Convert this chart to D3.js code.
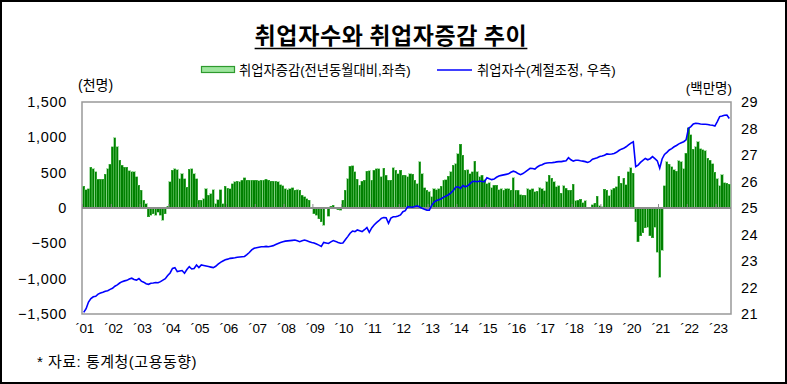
<!DOCTYPE html>
<html>
<head>
<meta charset="utf-8">
<script src="https://cdn.jsdelivr.net/npm/d3@7"></script>
<style>
  body { margin: 0; background: #fff; }
  text { font-family: "Liberation Sans", "Noto Sans CJK KR", sans-serif; fill: #000; }
  .kr { font-family: "Noto Sans CJK KR", sans-serif; }
</style>
</head>
<body>
<div id="graph"></div>
<script>
// 취업자증감 (전년동월대비, 천명) 2001.01 ~ 2023.06
const barChange = [
  307, 260, 274, 580, 557, 510, 406, 406, 406, 477, 557, 618, // 2001
  864, 996, 864, 675, 604, 580, 580, 524, 510, 510, 439, 321, // 2002
  250, 109, 61, -127, -104, -80, -104, -57, -104, -175, -80, 24, // 2003
  368, 533, 557, 543, 415, 486, 415, 297, 548, 557, 486, 415, // 2004
  109, 109, 132, 274, 179, 203, 260, 61, 118, 260, 61, 307, // 2005
  283, 274, 345, 368, 378, 368, 392, 425, 392, 392, 392, 392, // 2006
  392, 387, 392, 392, 406, 392, 378, 378, 378, 368, 330, 312, // 2007
  274, 260, 274, 288, 250, 260, 250, 179, 156, 132, 109, 14, // 2008
  -80, -104, -151, -198, -245, 5, -118, 24, 38, 5, -24, -33, // 2009
  109, 250, 415, 590, 595, 510, 406, 321, 378, 392, 519, 524, // 2010
  392, 533, 557, 557, 439, 566, 463, 392, 392, 571, 533, 486, // 2011
  533, 463, 463, 439, 486, 477, 392, 345, 651, 486, 288, 250, // 2012
  227, 156, 274, 260, 274, 307, 392, 401, 448, 510, 604, 628, // 2013
  769, 902, 746, 533, 543, 486, 510, 661, 510, 439, 463, 401, // 2014
  345, 354, 288, 321, 321, 260, 274, 250, 274, 274, 250, 430, // 2015
  250, 250, 190, 179, 179, 274, 260, 274, 227, 240, 288, 274, // 2016
  243, 371, 466, 424, 375, 301, 313, 212, 314, 279, 253, 253, // 2017
  334, 104, 112, 123, 72, 106, 5, 3, 45, 64, 165, 34, // 2018
  19, 263, 250, 171, 259, 281, 299, 452, 348, 419, 331, 516, // 2019
  568, 492, -195, -476, -392, -352, -277, -274, -392, -421, -273, -628, // 2020
  -982, -600, 314, 652, 619, 582, 542, 518, 671, 652, 553, 773, // 2021
  1135, 1037, 831, 865, 935, 841, 826, 807, 707, 677, 626, 509, // 2022
  411, 312, 469, 354, 351, 333 // 2023
];

// 취업자수 (계절조정, 백만명)
const employed = [
  21.06, 21.20, 21.45, 21.58, 21.65, 21.67, 21.75, 21.79, 21.82, 21.86, 21.88, 21.93,
  21.97, 22.05, 22.10, 22.17, 22.22, 22.25, 22.27, 22.32, 22.35, 22.30, 22.28, 22.34,
  22.24, 22.20, 22.14, 22.12, 22.16, 22.17, 22.19, 22.18, 22.22, 22.28, 22.33, 22.45,
  22.55, 22.72, 22.75, 22.60, 22.62, 22.64, 22.54, 22.68, 22.79, 22.70, 22.72, 22.85,
  22.75, 22.85, 22.83, 22.81, 22.79, 22.77, 22.75, 22.80, 22.88, 22.95, 23.00, 23.05,
  23.07, 23.10, 23.11, 23.12, 23.14, 23.15, 23.16, 23.17, 23.24, 23.32, 23.42, 23.48,
  23.50, 23.52, 23.54, 23.54, 23.55, 23.54, 23.56, 23.58, 23.62, 23.66, 23.70, 23.73,
  23.75, 23.76, 23.77, 23.78, 23.79, 23.76, 23.73, 23.76, 23.79, 23.76, 23.73, 23.70,
  23.68, 23.64, 23.60, 23.55, 23.70, 23.68, 23.66, 23.72, 23.77, 23.74, 23.70, 23.67,
  23.68, 23.80, 23.92, 24.05, 24.13, 24.11, 24.17, 24.14, 24.11, 24.18, 24.26, 24.08,
  24.25, 24.36, 24.45, 24.52, 24.61, 24.64, 24.63, 24.42, 24.62, 24.67, 24.67, 24.70,
  24.74, 24.86, 24.90, 25.05, 25.04, 25.03, 25.06, 25.08, 25.04, 24.99, 24.95, 24.92,
  24.92, 25.10, 25.22, 25.28, 25.31, 25.35, 25.41, 25.45, 25.50, 25.57, 25.66, 25.78,
  25.80, 25.74, 25.85, 25.80, 25.84, 25.92, 26.00, 26.01, 25.99, 26.02, 26.00, 25.99,
  26.14, 26.10, 26.07, 26.09, 26.16, 26.21, 26.23, 26.25, 26.27, 26.29, 26.35, 26.39,
  26.36, 26.30, 26.26, 26.30, 26.36, 26.43, 26.50, 26.49, 26.47, 26.55, 26.60, 26.63,
  26.68, 26.70, 26.71, 26.71, 26.72, 26.74, 26.75, 26.75, 26.77, 26.78, 26.90, 26.82,
  26.77, 26.80, 26.80, 26.78, 26.77, 26.75, 26.72, 26.76, 26.84, 26.87, 26.90, 26.94,
  26.96, 26.99, 27.04, 27.03, 27.04, 27.06, 27.10, 27.17, 27.22, 27.25, 27.31, 27.38,
  27.45, 27.50, 26.56, 26.62, 26.72, 26.80, 26.87, 26.82, 26.86, 26.94, 26.86, 26.78,
  26.50, 26.85, 27.02, 27.10, 27.19, 27.24, 27.31, 27.36, 27.42, 27.46, 27.50, 27.57,
  28.01, 28.07, 28.17, 28.20, 28.19, 28.17, 28.16, 28.16, 28.15, 28.13, 28.12, 28.09,
  28.26, 28.45, 28.47, 28.50, 28.51, 28.38
];

const yearLabels = ["´01", "´02", "´03", "´04", "´05", "´06", "´07", "´08", "´09", "´10", "´11", "´12",
  "´13", "´14", "´15", "´16", "´17", "´18", "´19", "´20", "´21", "´22", "´23"];
const leftTicks = [-1500, -1000, -500, 0, 500, 1000, 1500];
const rightTicks = [21, 22, 23, 24, 25, 26, 27, 28, 29];

const width = 787;
const height = 384;
const config = { left: 82, right: 731, top: 102, bottom: 314 };

const svg = d3
  .select("#graph")
  .append("svg")
  .attr("width", width)
  .attr("height", height);

// outer frame
svg
  .append("rect")
  .attr("x", 1)
  .attr("y", 1)
  .attr("width", width - 2)
  .attr("height", height - 2)
  .attr("fill", "none")
  .attr("stroke", "#000")
  .attr("stroke-width", 2);

// title
const title = svg
  .append("text")
  .attr("class", "kr")
  .attr("x", 391)
  .attr("y", 44)
  .attr("text-anchor", "middle")
  .style("font-size", "23px")
  .style("font-weight", "bold")
  .style("letter-spacing", "0.6px")
  .text("취업자수와 취업자증감 추이");
const tb = title.node().getBBox();
svg
  .append("line")
  .attr("x1", tb.x)
  .attr("x2", tb.x + tb.width)
  .attr("y1", 48.5)
  .attr("y2", 48.5)
  .attr("stroke", "#000")
  .attr("stroke-width", 1.5);

const months = d3.range(barChange.length);
const x = d3
  .scaleBand()
  .domain(months)
  .range([config.left + 0.5, config.right - 0.5])
  .padding(0);

const yLeft = d3.scaleLinear().domain([-1500, 1500]).range([config.bottom, config.top]);
const yRight = d3.scaleLinear().domain([21, 29]).range([config.bottom, config.top]);

// plot frame
svg
  .append("rect")
  .attr("x", config.left)
  .attr("y", config.top)
  .attr("width", config.right - config.left)
  .attr("height", config.bottom - config.top)
  .attr("fill", "none")
  .attr("stroke", "#999")
  .attr("stroke-width", 1.5);

// bars
svg
  .append("g")
  .selectAll("rect")
  .data(barChange)
  .join("rect")
  .attr("x", (d, i) => x(i))
  .attr("width", x.bandwidth() * 0.92)
  .attr("y", (d) => yLeft(Math.max(0, d)))
  .attr("height", (d) => Math.abs(yLeft(d) - yLeft(0)))
  .attr("fill", "#008000")
  .attr("stroke", "#5cbf5c")
  .attr("stroke-width", 0.5)
  .attr("shape-rendering", "crispEdges");

// zero line with yearly ticks
svg
  .append("line")
  .attr("x1", config.left)
  .attr("x2", config.right)
  .attr("y1", yLeft(0))
  .attr("y2", yLeft(0))
  .attr("stroke", "#8c8c8c")
  .attr("stroke-width", 2);

svg
  .append("g")
  .selectAll("line")
  .data(yearLabels)
  .join("line")
  .attr("x1", (d, i) => x(i * 12))
  .attr("x2", (d, i) => x(i * 12))
  .attr("y1", yLeft(0) - 4)
  .attr("y2", yLeft(0))
  .attr("stroke", "#8c8c8c")
  .attr("stroke-width", 1);

// employed line
const line = d3
  .line()
  .x((d, i) => x(i) + x.bandwidth() / 2)
  .y((d) => yRight(d));

svg
  .append("path")
  .datum(employed)
  .attr("d", line)
  .attr("fill", "none")
  .attr("stroke", "#0000ff")
  .attr("stroke-width", 1.6);

// left axis labels
svg
  .append("g")
  .selectAll("text")
  .data(leftTicks)
  .join("text")
  .attr("x", 67)
  .attr("y", (d) => yLeft(d) + 5)
  .attr("text-anchor", "end")
  .style("font-size", "14.5px")
  .style("letter-spacing", "0.7px")
  .text((d) => d3.format(",")(d));

// right axis labels
svg
  .append("g")
  .selectAll("text")
  .data(rightTicks)
  .join("text")
  .attr("x", 741)
  .attr("y", (d) => yRight(d) + 5)
  .style("font-size", "14.5px")
  .style("letter-spacing", "0.5px")
  .text((d) => d);

// x labels
svg
  .append("g")
  .selectAll("text")
  .data(yearLabels)
  .join("text")
  .attr("x", (d, i) => x(i * 12) + x.bandwidth() / 2 + 1)
  .attr("y", 333)
  .attr("text-anchor", "middle")
  .style("font-size", "13.5px")
  .style("letter-spacing", "-0.3px")
  .text((d) => d);

// units
svg
  .append("text")
  .attr("x", 78)
  .attr("y", 90)
  .style("font-size", "14px")
  .text("(천명)");

svg
  .append("text")
  .attr("x", 732)
  .attr("y", 93)
  .attr("text-anchor", "end")
  .style("font-size", "13.5px")
  .text("(백만명)");

// legend
const legend = svg.append("g").attr("transform", "translate(0,70)");
legend
  .append("rect")
  .attr("x", 201.5)
  .attr("y", -3.5)
  .attr("width", 33)
  .attr("height", 6)
  .attr("fill", "#9ee59e")
  .attr("stroke", "#2e9a2e")
  .attr("stroke-width", 1.2);
legend
  .append("text")
  .attr("x", 239)
  .attr("y", 5)
  .style("font-size", "13.3px")
  .text("취업자증감(전년동월대비,좌측)");
legend
  .append("line")
  .attr("x1", 437)
  .attr("x2", 472)
  .attr("y1", 0)
  .attr("y2", 0)
  .attr("stroke", "#0000ff")
  .attr("stroke-width", 1.6);
legend
  .append("text")
  .attr("x", 477)
  .attr("y", 5)
  .style("font-size", "13.3px")
  .text("취업자수(계절조정, 우측)");

// source note
svg
  .append("text")
  .attr("x", 37)
  .attr("y", 367)
  .style("font-size", "15px")
  .style("letter-spacing", "0.5px")
  .text("* 자료: 통계청(고용동향)");
</script>
</body>
</html>
